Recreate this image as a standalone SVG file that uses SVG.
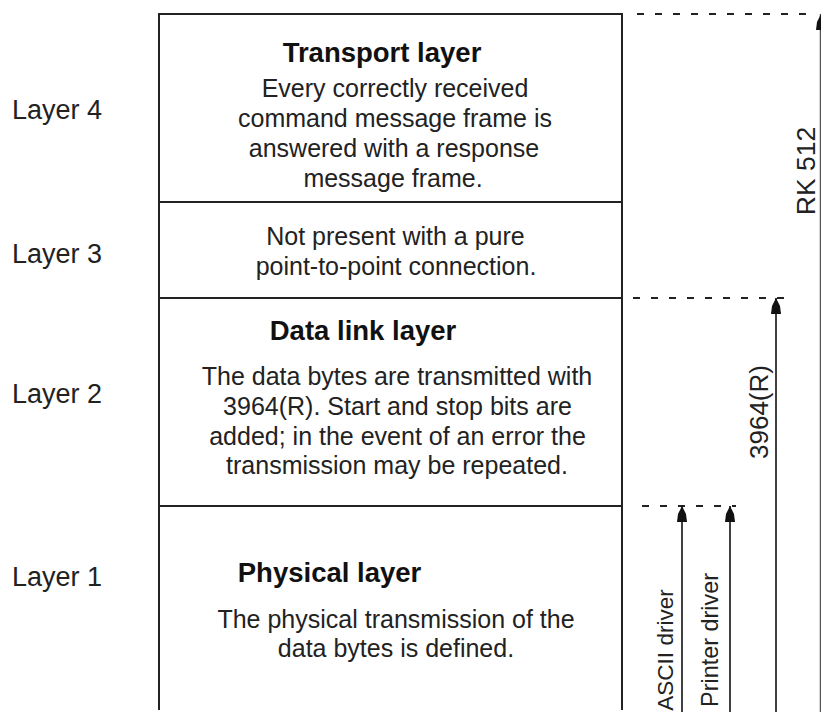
<svg xmlns="http://www.w3.org/2000/svg" width="821" height="715" viewBox="0 0 821 715">
<defs>
<style>
.box{fill:none;stroke:#222;stroke-width:2}
.dash{fill:none;stroke:#222;stroke-width:2;stroke-dasharray:7 11}
.conn{fill:none;stroke:#111;stroke-width:1.6}
.head{fill:#111;stroke:none}
.lbl{font-family:"Liberation Sans",Arial,sans-serif;font-size:27px;fill:#222}
.ttl{font-family:"Liberation Sans",Arial,sans-serif;font-size:27.5px;font-weight:bold;fill:#111;text-anchor:middle}
.txt{font-family:"Liberation Sans",Arial,sans-serif;font-size:25px;fill:#222;text-anchor:middle}
.vt{font-family:"Liberation Sans",Arial,sans-serif;fill:#222;text-anchor:middle}
</style>
<path id="ah" d="M0,0 L-4,8 L-5,16 L5,16 L4,8 Z"/>
</defs>
<rect width="821" height="715" fill="#fff"/>

<g id="labels">
<text class="lbl" x="12" y="119">Layer 4</text>
<text class="lbl" x="12" y="263">Layer 3</text>
<text class="lbl" x="12" y="403">Layer 2</text>
<text class="lbl" x="12" y="586">Layer 1</text>
</g>

<g id="layer4">
<path class="box" d="M159,710 V14 H622 V710 M159,202 H622"/>
<text class="ttl" x="382" y="62">Transport layer</text>
<text class="txt" x="395" y="97">Every correctly received</text>
<text class="txt" x="395" y="127">command message frame is</text>
<text class="txt" x="394" y="157">answered with a response</text>
<text class="txt" x="393" y="187">message frame.</text>
</g>

<g id="layer3">
<path class="box" d="M159,298 H622"/>
<text class="txt" x="395.5" y="245">Not present with a pure</text>
<text class="txt" x="396" y="275">point-to-point connection.</text>
</g>

<g id="layer2">
<path class="box" d="M159,506 H622"/>
<text class="ttl" x="363" y="340">Data link layer</text>
<text class="txt" x="397" y="385">The data bytes are transmitted with</text>
<text class="txt" x="397.5" y="415">3964(R). Start and stop bits are</text>
<text class="txt" x="397.5" y="444.5">added; in the event of an error the</text>
<text class="txt" x="397" y="474">transmission may be repeated.</text>
</g>

<g id="layer1">
<text class="ttl" x="329.5" y="582">Physical layer</text>
<text class="txt" x="396" y="628">The physical transmission of the</text>
<text class="txt" x="396" y="657">data bytes is defined.</text>
</g>

<g id="connectors">
<path class="dash" d="M637,14 H816"/>
<path class="dash" d="M633,298 H792"/>
<path class="dash" d="M642,506 H736"/>
<path d="M820.5,14 V712" fill="none" stroke="#555" stroke-width="1.5"/>
<use href="#ah" class="head" x="821" y="14"/>
<path class="conn" d="M776,298 V712"/>
<use href="#ah" class="head" x="776" y="298"/>
<path class="conn" d="M682,506 V712"/>
<use href="#ah" class="head" x="682" y="506"/>
<path class="conn" d="M730,506 V712"/>
<use href="#ah" class="head" x="730" y="506"/>
</g>

<g id="vlabels">
<text class="vt" font-size="26.5" transform="translate(815,171) rotate(-90)">RK 512</text>
<text class="vt" font-size="26" transform="translate(768,412) rotate(-90)">3964(R)</text>
<text class="vt" font-size="22.5" transform="translate(673,650) rotate(-90)">ASCII driver</text>
<text class="vt" font-size="23.4" transform="translate(718,640) rotate(-90)">Printer driver</text>
</g>
</svg>
